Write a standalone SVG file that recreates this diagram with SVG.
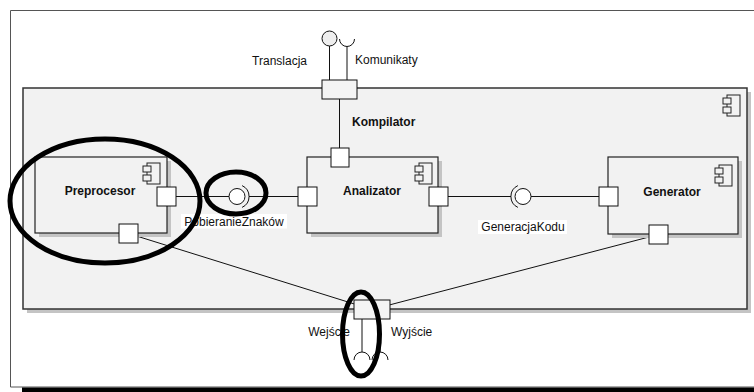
<svg xmlns="http://www.w3.org/2000/svg" xmlns:xlink="http://www.w3.org/1999/xlink" width="754" height="392" viewBox="0 0 754 392">
  <style>
    text { font-family: "Liberation Sans", Arial, sans-serif; font-size: 12px; fill: #111; }
    .title { font-weight: bold; text-anchor: middle; }
    .frame { fill: #f2f2f2; stroke: #333; stroke-width: 1.5; }
    .box { fill: #f2f2f2; stroke: #222; stroke-width: 1.2; }
    .shadow { fill: #c4c4c4; }
    .port { fill: #ffffff; stroke: #111; stroke-width: 1; }
    .port-out { fill: #f4f4f4; stroke: #111; stroke-width: 1; }
    .wire { fill: none; stroke: #111; stroke-width: 1; }
    .ball { fill: #ffffff; stroke: #111; stroke-width: 1; }
    .mark { fill: none; stroke: #000; stroke-width: 5; }
    .lblbg { fill: #ffffff; }
  </style>
  <defs>
    <g id="cmpIcon">
      <rect x="4" y="0" width="13" height="21" fill="#f2f2f2" stroke="#222" stroke-width="1"/>
      <rect x="0" y="3" width="8" height="6" fill="#f2f2f2" stroke="#222" stroke-width="1"/>
      <rect x="0" y="12" width="8" height="6" fill="#f2f2f2" stroke="#222" stroke-width="1"/>
    </g>
  </defs>

  <!-- page frame -->
  <g id="page">
    <path d="M754,10.5 H10.5 V387 H754" fill="none" stroke="#555" stroke-width="1"/>
    <rect x="22" y="387.5" width="732" height="4.5" fill="#000"/>
  </g>

  <!-- Kompilator container -->
  <g id="kompilator">
    <rect class="shadow" x="27" y="92" width="724" height="221"/>
    <rect class="frame" x="23" y="88" width="724" height="221"/>
    <use xlink:href="#cmpIcon" x="723" y="95"/>
    <text x="352" y="126" font-weight="bold">Kompilator</text>
  </g>

  <!-- connectors -->
  <g id="connectors">
    <line class="wire" x1="329.5" y1="46" x2="329.5" y2="80"/>
    <line class="wire" x1="347" y1="46.5" x2="347" y2="80"/>
    <line class="wire" x1="339.5" y1="99" x2="339.5" y2="148"/>
    <line class="wire" x1="176" y1="196.5" x2="229" y2="196.5"/>
    <line class="wire" x1="249" y1="196.5" x2="298" y2="196.5"/>
    <line class="wire" x1="448" y1="196.5" x2="511" y2="196.5"/>
    <line class="wire" x1="531" y1="196.5" x2="599" y2="196.5"/>
    <line class="wire" x1="128.5" y1="233.5" x2="372" y2="309.5"/>
    <line class="wire" x1="658.5" y1="234.5" x2="372" y2="309.5"/>
    <line class="wire" x1="362" y1="319" x2="362" y2="352"/>
    <line class="wire" x1="380" y1="319" x2="380" y2="352"/>
    <!-- interface symbols -->
    <circle cx="329.5" cy="38.5" r="7.5" fill="#eeeeee" stroke="#111" stroke-width="1"/>
    <path class="wire" d="M339.5,39 A7.5,7.5 0 0 0 354.5,39"/>
    <circle class="ball" cx="237" cy="196.5" r="8"/>
    <path class="wire" d="M242.07,185.6 A12,12 0 0 1 242.07,207.4"/>
    <circle class="ball" cx="523" cy="196.5" r="8"/>
    <path class="wire" d="M517.9,185.6 A12,12 0 0 0 517.9,207.4"/>
    <path class="wire" d="M354,360 A8,8 0 0 1 370,360"/>
    <path class="wire" d="M372,360 A8,8 0 0 1 388,360"/>
  </g>

  <!-- Kompilator ports -->
  <g id="kompilator-ports">
    <rect class="port-out" x="322" y="80" width="35" height="19"/>
    <rect class="port-out" x="354" y="300" width="36" height="19"/>
  </g>

  <g id="preprocesor">
    <rect class="shadow" x="39" y="161" width="132" height="76"/>
    <rect class="box" x="35" y="157" width="132" height="76"/>
    <use xlink:href="#cmpIcon" x="143" y="163"/>
    <text class="title" x="100" y="195">Preprocesor</text>
    <rect class="port" x="157" y="187" width="19" height="19"/>
    <rect class="port" x="119" y="224" width="19" height="19"/>
  </g>

  <g id="analizator">
    <rect class="shadow" x="311" y="161" width="131" height="76"/>
    <rect class="box" x="307" y="157" width="131" height="76"/>
    <use xlink:href="#cmpIcon" x="415" y="163"/>
    <text class="title" x="372" y="195">Analizator</text>
    <rect class="port" x="331" y="148" width="18" height="19"/>
    <rect class="port" x="298" y="187" width="19" height="19"/>
    <rect class="port" x="429" y="187" width="19" height="19"/>
  </g>

  <g id="generator">
    <rect class="shadow" x="612" y="161" width="130" height="77"/>
    <rect class="box" x="608" y="157" width="130" height="77"/>
    <use xlink:href="#cmpIcon" x="715" y="165"/>
    <text class="title" x="672" y="196">Generator</text>
    <rect class="port" x="599" y="187" width="19" height="19"/>
    <rect class="port" x="649" y="225" width="19" height="19"/>
  </g>

  <!-- interface labels -->
  <g id="labels">
    <text x="307" y="65" text-anchor="end">Translacja</text>
    <text x="355" y="64">Komunikaty</text>
    <rect class="lblbg" x="181" y="214" width="106" height="14.5"/>
    <text x="234" y="225.5" text-anchor="middle">PobieranieZnaków</text>
    <rect class="lblbg" x="478" y="220" width="89" height="14"/>
    <text x="523" y="231" text-anchor="middle">GeneracjaKodu</text>
    <text x="350" y="336" text-anchor="end">Wejście</text>
    <text x="391" y="336">Wyjście</text>
  </g>

  <!-- highlight rings -->
  <g id="highlights">
    <ellipse class="mark" cx="105" cy="201" rx="95" ry="62"/>
    <ellipse class="mark" cx="236" cy="193" rx="30" ry="21"/>
    <ellipse class="mark" cx="361" cy="334" rx="18.5" ry="42"/>
  </g>
</svg>
